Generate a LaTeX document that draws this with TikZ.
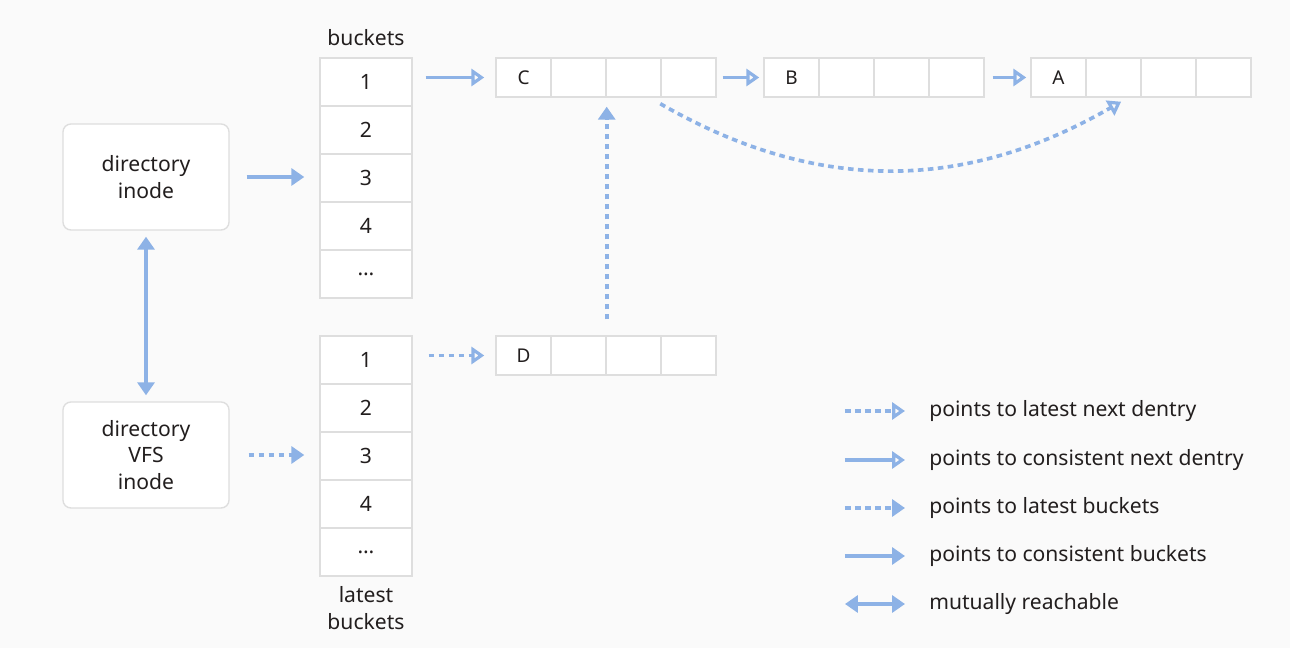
\documentclass[tikz,border=0pt]{standalone}
\usepackage{fontspec}
\setmainfont{Noto Sans}
\usetikzlibrary{arrows.meta}
\definecolor{linkblue}{RGB}{141,178,230}
\definecolor{gridgray}{RGB}{222,222,222}
\definecolor{bggray}{RGB}{250,250,250}
\definecolor{inkgray}{RGB}{34,30,30}

\begin{document}
\begin{tikzpicture}[
  x=0.025cm, y=0.025cm,
  font=\fontsize{15}{19}\selectfont, text=inkgray,
  bucket/.style={draw=gridgray, line width=1pt, fill=white,
                 minimum width=2.3cm, minimum height=1.2cm, inner sep=0pt},
  dcell/.style={draw=gridgray, line width=1pt, fill=white,
                minimum width=1.375cm, minimum height=0.975cm, inner sep=0pt,
                font=\fontsize{13.5}{16}\selectfont},
  inodebox/.style={draw=gridgray, line width=1pt, fill=white,
                   rounded corners=0.2cm, minimum width=4.15cm,
                   minimum height=2.65cm, align=center},
  caption/.style={align=center, inner sep=0pt},
  legendtext/.style={anchor=west, inner sep=0pt},
  solidnext/.style={draw=linkblue, line width=2.6pt,
                    -{Triangle[open, length=0.32cm, width=0.42cm]}},
  latestnext/.style={solidnext, dash pattern=on 0.14cm off 0.11cm},
  solidbkt/.style={draw=linkblue, line width=2.6pt,
                   -{Triangle[length=0.32cm, width=0.42cm]}},
  latestbkt/.style={solidbkt, dash pattern=on 0.14cm off 0.11cm},
  mutual/.style={draw=linkblue, line width=2.6pt,
                 {Triangle[length=0.32cm, width=0.42cm]}-{Triangle[length=0.32cm, width=0.42cm]}},
]

% Background
\fill[bggray] (0,0) rectangle (1290,-648);
\useasboundingbox (0,0) rectangle (1290,-648);

% Inodes
\node[inodebox] (inode) at (146,-177) {directory\\inode};
\node[inodebox] (vfs) at (146,-455) {directory\\VFS\\inode};

% Bucket tables
\foreach \i/\lbl in {1/1,2/2,3/3,4/4,5/\ldots} {
  \node[bucket] (bk\i) at (366,{-34-48*\i}) {\lbl};
  \node[bucket] (lb\i) at (366,{-312-48*\i}) {\lbl};
}
\node[caption] (bkcap) at (366,-38) {buckets};
\node[caption] (lbcap) at (366,-608) {latest\\buckets};

% Dentries
\foreach \d/\x/\y in {C/496/77.5, B/764/77.5, A/1031/77.5, D/496/355.5} {
  \node[dcell] (\d1) at ({\x+27.5},-\y) {\d};
  \foreach \k in {2,3,4}
    \node[dcell] (\d\k) at ({\x+27.5+55*(\k-1)},-\y) {};
}

% Links
\draw[solidbkt, shorten <=0.425cm, shorten >=0.375cm] (inode.east) -- (inode.east -| bk3.west);
\draw[latestbkt, shorten <=0.475cm, shorten >=0.375cm] (vfs.east) -- (vfs.east -| lb3.west);
\draw[mutual, shorten <=0.15cm, shorten >=0.15cm] (inode.south) -- (vfs.north);
\draw[solidnext, shorten <=0.325cm, shorten >=0.275cm] (bk1.east |- C1.west) -- (C1.west);
\draw[solidnext, shorten <=0.15cm, shorten >=0.1cm] (C4.east) -- (B1.west);
\draw[solidnext, shorten <=0.2cm, shorten >=0.1cm] (B4.east) -- (A1.west);
\draw[latestnext, shorten <=0.4cm, shorten >=0.275cm] (lb1.east |- D1.west) -- (D1.west);
\draw[latestbkt, shorten <=0.4cm, shorten >=0.225cm] (D2.north east) -- (C2.south east);
\draw[latestnext] ([yshift=-0.15cm]C4.south west)
  to[out=-30, in=-150] ([shift={(0.19cm,-0.1cm)}]A2.south);

% Legend
\node[legendtext] (leg1) at (929,-411) {points to latest next dentry};
\node[legendtext] (leg2) at (929,-460) {points to consistent next dentry};
\node[legendtext] (leg3) at (929,-508) {points to latest buckets};
\node[legendtext] (leg4) at (929,-556) {points to consistent buckets};
\node[legendtext] (leg5) at (929,-604) {mutually reachable};
\draw[latestnext] ([xshift=-2.1cm]leg1.west) -- ([xshift=-0.6cm]leg1.west);
\draw[solidnext] ([xshift=-2.1cm]leg2.west) -- ([xshift=-0.6cm]leg2.west);
\draw[latestbkt] ([xshift=-2.1cm]leg3.west) -- ([xshift=-0.6cm]leg3.west);
\draw[solidbkt] ([xshift=-2.1cm]leg4.west) -- ([xshift=-0.6cm]leg4.west);
\draw[mutual] ([xshift=-2.1cm]leg5.west) -- ([xshift=-0.6cm]leg5.west);

\end{tikzpicture}
\end{document}
